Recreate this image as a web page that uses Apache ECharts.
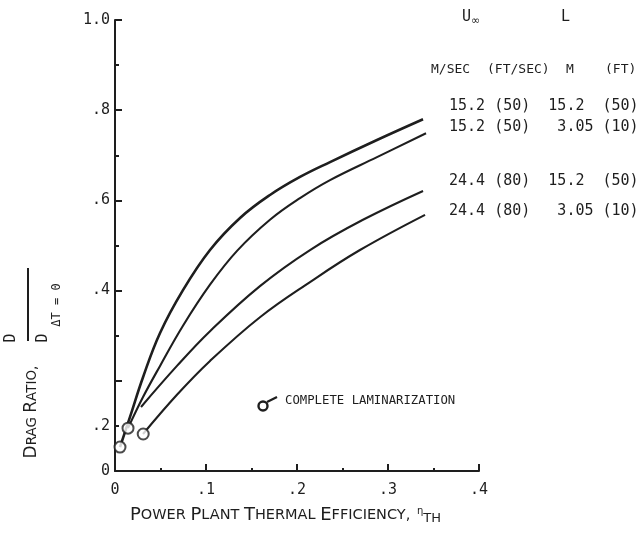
<!DOCTYPE html>
<html>
<head>
<meta charset="utf-8">
<script src="https://cdn.jsdelivr.net/npm/echarts@6/dist/echarts.min.js"></script>
<style>
  html, body { margin: 0; padding: 0; background: #fff; }
  #chart { width: 642px; height: 534px; }
</style>
</head>
<body>
<div id="chart"></div>
<script>
// Power plant thermal efficiency vs. drag ratio D / D(ΔT=0)
// U∞ = 15.2 m/s (50 ft/s), L = 15.2 m (50 ft)
const effA   = [0.0055, 0.0165, 0.0308, 0.0495, 0.0747, 0.1044, 0.1374, 0.1703, 0.2033, 0.2363, 0.2879, 0.3385];
const ratioA = [0.053, 0.120, 0.208, 0.306, 0.401, 0.490, 0.561, 0.612, 0.652, 0.685, 0.734, 0.780];
// U∞ = 15.2 m/s (50 ft/s), L = 3.05 m (10 ft)
const effB   = [0.0143, 0.0308, 0.0495, 0.0747, 0.1044, 0.1341, 0.1703, 0.2033, 0.2363, 0.2879, 0.3418];
const ratioB = [0.095, 0.164, 0.233, 0.322, 0.413, 0.488, 0.557, 0.605, 0.645, 0.696, 0.749];
// U∞ = 24.4 m/s (80 ft/s), L = 15.2 m (50 ft)
const effC   = [0.0286, 0.0681, 0.1044, 0.1593, 0.2143, 0.2725, 0.3385];
const ratioC = [0.142, 0.233, 0.310, 0.410, 0.490, 0.557, 0.621];
// U∞ = 24.4 m/s (80 ft/s), L = 3.05 m (10 ft)
const effD   = [0.0308, 0.0681, 0.1044, 0.1593, 0.2143, 0.2692, 0.3407];
const ratioD = [0.082, 0.169, 0.244, 0.341, 0.419, 0.490, 0.568];
// complete laminarization points
const lamEff   = [0.0055, 0.0143, 0.031];
const lamRatio = [0.053, 0.095, 0.082];

// axis tick labels
const xTickValues = [0, 0.1, 0.2, 0.3, 0.4];
const xTickLabels = ['0', '.1', '.2', '.3', '.4'];
const yTickValues = [0, 0.1, 0.4, 0.6, 0.8, 1.0];
const yTickLabels = ['0', '.2', '.4', '.6', '.8', '1.0'];

// legend table rows
const legendRows = [
  '15.2 (50)  15.2  (50)',
  '15.2 (50)   3.05 (10)',
  '24.4 (80)  15.2  (50)',
  '24.4 (80)   3.05 (10)'
];

const INK = '#1e1e1e';
const MONO = '"DejaVu Sans Mono", "Liberation Mono", monospace';
const SANS = '"DejaVu Sans", "Liberation Sans", sans-serif';

function pairs(xs, ys) { return xs.map((x, i) => [x, ys[i]]); }
function lookup(vals, labels, v) {
  for (let i = 0; i < vals.length; i++) if (Math.abs(vals[i] - v) < 1e-6) return labels[i];
  return '';
}
function curve(xs, ys, w) {
  return {
    type: 'line', data: pairs(xs, ys), smooth: 0.4,
    symbol: 'none', lineStyle: { color: INK, width: w }, z: 2, silent: true
  };
}

const chart = echarts.init(document.getElementById('chart'), null, { renderer: 'canvas' });

const option = {
  backgroundColor: '#ffffff',
  animation: false,
  grid: { left: 115, right: 163, top: 20, bottom: 63 },
  xAxis: {
    type: 'value', min: 0, max: 0.4, interval: 0.1,
    axisLine: { show: true, lineStyle: { color: INK, width: 2 } },
    axisTick: { show: true, inside: true, length: 7, lineStyle: { color: INK, width: 2 } },
    minorTick: { show: true, splitNumber: 2, length: 3, lineStyle: { color: INK, width: 2 } },
    splitLine: { show: false },
    axisLabel: {
      margin: 12, fontFamily: MONO, fontSize: 15, color: INK,
      formatter: v => lookup(xTickValues, xTickLabels, v)
    }
  },
  yAxis: [{
    type: 'value', min: 0, max: 1, interval: 0.2,
    axisLine: { show: true, lineStyle: { color: INK, width: 2 } },
    axisTick: { show: true, inside: true, length: 7, lineStyle: { color: INK, width: 2 } },
    minorTick: { show: true, splitNumber: 2, length: 4, lineStyle: { color: INK, width: 2 } },
    splitLine: { show: false },
    axisLabel: { show: false }
  }, {
    type: 'value', min: 0, max: 1, interval: 0.1, position: 'left', offset: 0,
    axisLine: { show: false }, axisTick: { show: false }, splitLine: { show: false },
    axisLabel: {
      margin: 5, fontFamily: MONO, fontSize: 15, color: INK,
      formatter: v => lookup(yTickValues, yTickLabels, v)
    }
  }],
  series: [
    curve(effA, ratioA, 2.6),
    curve(effB, ratioB, 2.1),
    curve(effC, ratioC, 2.1),
    curve(effD, ratioD, 2.1),
    {
      type: 'scatter', data: pairs(lamEff, lamRatio), symbol: 'circle', symbolSize: 11,
      itemStyle: { color: '#ffffff', borderColor: INK, borderWidth: 2 }, z: 4, silent: true
    }
  ],
  graphic: [
    // legend header
    { type: 'text', left: 462, top: 10, style: {
        text: '{u|U}{inf|∞}', rich: {
          u: { fontFamily: MONO, fontSize: 15, fill: INK },
          inf: { fontFamily: SANS, fontSize: 11, fill: INK, verticalAlign: 'bottom', padding: [7, 0, 0, 0] }
        } } },
    { type: 'text', left: 561, top: 10, style: { text: 'L', fontFamily: MONO, fontSize: 15, fill: INK } },
    { type: 'text', left: 431, top: 63, style: { text: 'M/SEC', fontFamily: MONO, fontSize: 13, fill: INK } },
    { type: 'text', left: 487, top: 63, style: { text: '(FT/SEC)', fontFamily: MONO, fontSize: 13, fill: INK } },
    { type: 'text', left: 566, top: 63, style: { text: 'M', fontFamily: MONO, fontSize: 13, fill: INK } },
    { type: 'text', left: 605, top: 63, style: { text: '(FT)', fontFamily: MONO, fontSize: 13, fill: INK } },
    // legend rows
    { type: 'text', left: 449, top: 99,  style: { text: legendRows[0], fontFamily: MONO, fontSize: 15, fill: INK } },
    { type: 'text', left: 449, top: 120, style: { text: legendRows[1], fontFamily: MONO, fontSize: 15, fill: INK } },
    { type: 'text', left: 449, top: 174, style: { text: legendRows[2], fontFamily: MONO, fontSize: 15, fill: INK } },
    { type: 'text', left: 449, top: 204, style: { text: legendRows[3], fontFamily: MONO, fontSize: 15, fill: INK } },
    // complete laminarization key
    { type: 'circle', shape: { cx: 263, cy: 406, r: 4.5 }, style: { fill: '#fff', stroke: INK, lineWidth: 2.4 } },
    { type: 'line', shape: { x1: 267, y1: 402, x2: 277, y2: 397 }, style: { stroke: INK, lineWidth: 2.2 } },
    { type: 'text', left: 285, top: 395, style: { text: 'COMPLETE LAMINARIZATION', fontFamily: MONO, fontSize: 12.3, fill: INK } },
    // x axis title
    { type: 'text', left: 130, top: 506, style: {
        text: '{b|P}{s|OWER }{b|P}{s|LANT }{b|T}{s|HERMAL }{b|E}{s|FFICIENCY, }{e|η}{t|TH}',
        rich: {
          b: { fontFamily: SANS, fontSize: 18, fill: INK },
          s: { fontFamily: SANS, fontSize: 14.5, fill: INK },
          e: { fontFamily: SANS, fontSize: 10, fill: INK, padding: [0, 0, 7, 2] },
          t: { fontFamily: SANS, fontSize: 13, fill: INK, padding: [7, 0, 0, 0] }
        } } },
    // y axis title (rotated)
    { type: 'text', x: 32, y: 412, rotation: Math.PI / 2, style: {
        text: '{b|D}{s|RAG }{b|R}{s|ATIO,}', align: 'center', verticalAlign: 'middle',
        rich: {
          b: { fontFamily: SANS, fontSize: 17, fill: INK },
          s: { fontFamily: SANS, fontSize: 13.5, fill: INK }
        } } },
    { type: 'text', x: 11, y: 338, rotation: Math.PI / 2, style: {
        text: 'D', fontFamily: MONO, fontSize: 15, fill: INK, align: 'center', verticalAlign: 'middle' } },
    { type: 'line', shape: { x1: 28, y1: 268, x2: 28, y2: 341 }, style: { stroke: INK, lineWidth: 2 } },
    { type: 'text', x: 43, y: 338, rotation: Math.PI / 2, style: {
        text: 'D', fontFamily: MONO, fontSize: 15, fill: INK, align: 'center', verticalAlign: 'middle' } },
    { type: 'text', x: 57, y: 305, rotation: Math.PI / 2, style: {
        text: 'ΔT = 0', fontFamily: MONO, fontSize: 12, fill: INK, align: 'center', verticalAlign: 'middle' } }
  ]
};

chart.setOption(option);
</script>
</body>
</html>
